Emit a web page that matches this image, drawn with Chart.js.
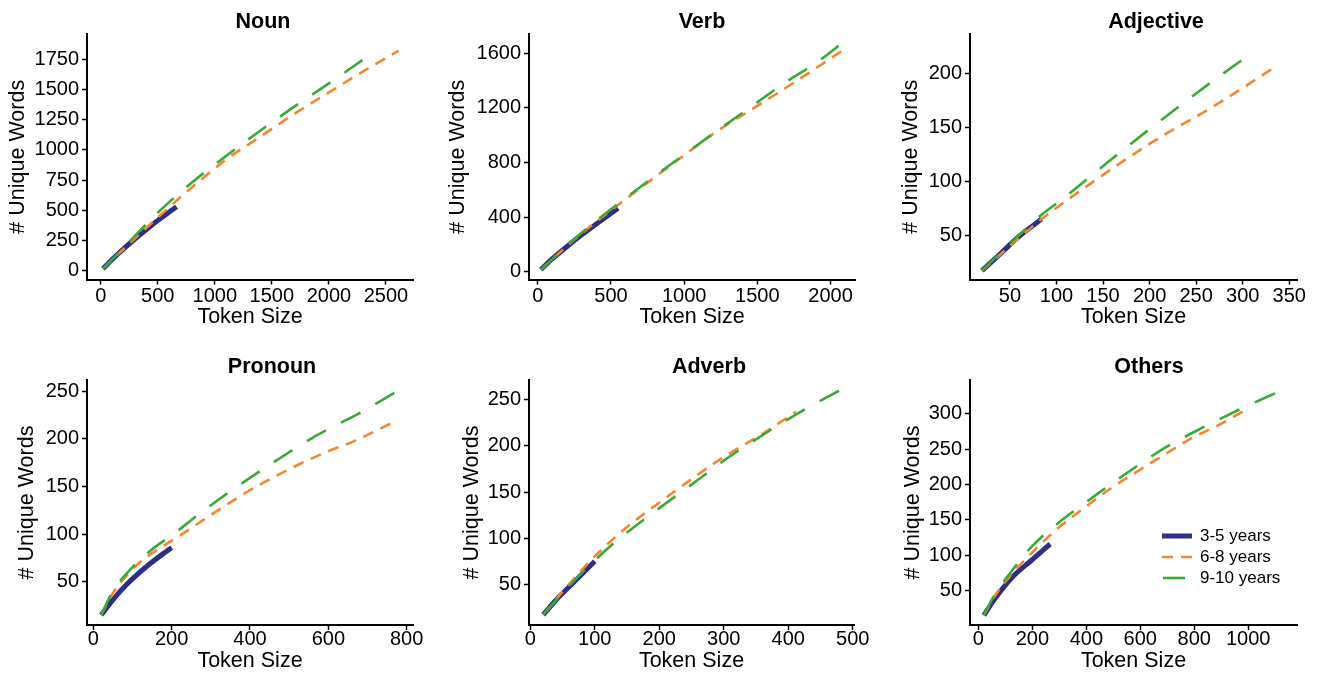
<!DOCTYPE html>
<html>
<head>
<meta charset="utf-8">
<title>Unique words by token size</title>
<script src="https://cdn.jsdelivr.net/npm/chart.js@4.4.1/dist/chart.umd.min.js"></script>
<style>
  html, body { margin: 0; padding: 0; background: #fff; }
  #page { position: relative; width: 1322px; height: 679px; overflow: hidden; }
  #page canvas { position: absolute; }
</style>
</head>
<body>
<div id="page"></div>
<script>
// Age groups (legend order)
const ageGroups = ['3-5 years', '6-8 years', '9-10 years'];

// [token size, unique words]
const noun35  = [[20, 15], [100, 92], [200, 180], [300, 262], [400, 340], [500, 415], [600, 485], [665, 530]];
const noun68  = [[20, 15], [200, 180], [500, 440], [800, 690], [1100, 920], [1400, 1110], [1700, 1300], [2000, 1475], [2300, 1650], [2612, 1821]];
const noun910 = [[20, 15], [200, 190], [500, 480], [800, 730], [1100, 950], [1400, 1160], [1700, 1360], [2000, 1550], [2358, 1786]];

const verb35  = [[20, 15], [100, 95], [200, 185], [300, 270], [400, 350], [549, 465]];
const verb68  = [[20, 15], [300, 280], [623, 550], [1003, 855], [1211, 1019], [1511, 1222], [1800, 1420], [2081, 1620]];
const verb910 = [[20, 15], [300, 285], [600, 540], [1003, 860], [1223, 1031], [1453, 1205], [1684, 1381], [1915, 1540], [2064, 1662]];

const adj35  = [[20, 17], [40, 33], [60, 49], [84, 65]];
const adj68  = [[20, 17], [50, 40], [84, 65], [104, 78], [150, 106], [202, 136], [269, 170], [336, 207]];
const adj910 = [[20, 17], [50, 42], [84, 69], [104, 82], [154, 117], [202, 150], [269, 194], [311, 220]];

const pron35  = [[20, 15], [50, 31], [85, 47], [136, 66], [200, 86]];
const pron68  = [[20, 15], [50, 38], [100, 63], [150, 80], [208, 95], [315, 124], [400, 146], [500, 168], [600, 187], [663, 197], [770, 218]];
const pron910 = [[20, 15], [50, 40], [102, 66], [144, 82], [208, 101], [270, 121], [340, 142], [400, 159], [493, 184], [560, 201], [600, 210], [689, 229], [781, 251]];

const adv35  = [[20, 17], [40, 33], [60, 47], [80, 61], [100, 75]];
const adv68  = [[20, 17], [60, 50], [101, 81], [150, 112], [199, 138], [250, 164], [300, 188], [360, 213], [412, 237]];
const adv910 = [[20, 17], [60, 48], [100, 76], [132, 96], [199, 132], [250, 158], [300, 184], [386, 223], [437, 244], [482, 261]];

const oth35  = [[20, 15], [60, 38], [123, 68], [197, 93], [266, 116]];
const oth68  = [[20, 15], [60, 42], [120, 72], [197, 103], [300, 140], [399, 169], [496, 196], [595, 220], [700, 245], [792, 266], [894, 285], [987, 305]];
const oth910 = [[20, 15], [60, 44], [120, 76], [197, 112], [300, 147], [399, 175], [496, 202], [595, 228], [695, 253], [792, 273], [869, 288], [994, 311], [1128, 334]];

// Tick labels
const nounXTicks = [0, 500, 1000, 1500, 2000, 2500];
const nounYTicks = [0, 250, 500, 750, 1000, 1250, 1500, 1750];
const verbXTicks = [0, 500, 1000, 1500, 2000];
const verbYTicks = [0, 400, 800, 1200, 1600];
const adjXTicks = [50, 100, 150, 200, 250, 300, 350];
const adjYTicks = [50, 100, 150, 200];
const pronXTicks = [0, 200, 400, 600, 800];
const pronYTicks = [50, 100, 150, 200, 250];
const advXTicks = [0, 100, 200, 300, 400, 500];
const advYTicks = [50, 100, 150, 200, 250];
const othXTicks = [0, 200, 400, 600, 800, 1000];
const othYTicks = [50, 100, 150, 200, 250, 300];

// Line styles per age group
const seriesColors = ['#2d2f86', '#f5862b', '#3aa935'];
const seriesWidths = [5, 2.6, 2.6];
const seriesDashes = [[], [11, 8], [22, 17]];

const FONT = '"Liberation Sans", Arial, Helvetica, sans-serif';
Chart.defaults.font.family = FONT;
Chart.defaults.color = '#000';

// Panel layout: plot box in page pixels, axis ranges
const panels = [
  { title: 'Noun', series: [noun35, noun68, noun910], xTicks: nounXTicks, yTicks: nounYTicks,
    col: 0, row: 0, box: { l: 87, t: 34, r: 413, b: 279.5 }, x: [-120, 2737], y: [-73, 1959], titleX: 263, yTitleX: 18.3 },
  { title: 'Verb', series: [verb35, verb68, verb910], xTicks: verbXTicks, yTicks: verbYTicks,
    col: 1, row: 0, box: { l: 529, t: 34, r: 855, b: 279.5 }, x: [-60, 2167], y: [-57, 1741], titleX: 702, yTitleX: 458.3 },
  { title: 'Adjective', series: [adj35, adj68, adj910], xTicks: adjXTicks, yTicks: adjYTicks,
    col: 2, row: 0, box: { l: 970, t: 34, r: 1297, b: 279.5 }, x: [7.1, 358.3], y: [8.8, 237], titleX: 1156, yTitleX: 910.7 },
  { title: 'Pronoun', series: [pron35, pron68, pron910], xTicks: pronXTicks, yTicks: pronYTicks,
    col: 0, row: 1, box: { l: 87, t: 380, r: 413, b: 625 }, x: [-16.1, 816.2], y: [4.6, 261.6], titleX: 272, yTitleX: 26.7 },
  { title: 'Adverb', series: [adv35, adv68, adv910], xTicks: advXTicks, yTicks: advYTicks,
    col: 1, row: 1, box: { l: 529, t: 380, r: 854, b: 625 }, x: [-2, 502], y: [5.9, 271.4], titleX: 709, yTitleX: 471.7 },
  { title: 'Others', series: [oth35, oth68, oth910], xTicks: othXTicks, yTicks: othYTicks,
    col: 2, row: 1, box: { l: 970, t: 380, r: 1297, b: 625 }, x: [-31.2, 1181], y: [1.4, 348], titleX: 1149, yTitleX: 913.3, legend: true }
];

const colBounds = [[0, 440], [440, 880], [880, 1322]];
const rowBounds = [[0, 340], [340, 679]];
const rowTitleY = [22, 367];
const rowTickPad = [-0.5, -3];
const rowXTitlePad = [9.8, 5.1];

const panelTitlePlugin = {
  id: 'panelTitle',
  afterDraw(chart, args, opts) {
    const ctx = chart.ctx;
    ctx.save();
    ctx.font = 'bold 21.5px ' + FONT;
    ctx.fillStyle = '#000';
    ctx.textAlign = 'center';
    ctx.textBaseline = 'middle';
    ctx.fillText(opts.text, opts.x, opts.y);
    ctx.restore();
  }
};

const ageLegendPlugin = {
  id: 'ageLegend',
  afterDraw(chart, args, opts) {
    if (!opts.show) return;
    const ctx = chart.ctx;
    ageGroups.forEach((label, i) => {
      const ds = chart.data.datasets[i];
      const y = opts.rows[i];
      ctx.save();
      ctx.strokeStyle = ds.borderColor;
      ctx.lineWidth = ds.borderWidth;
      ctx.setLineDash(ds.borderDash);
      ctx.lineDashOffset = opts.dashOffsets[i];
      ctx.beginPath();
      ctx.moveTo(opts.x1, y);
      ctx.lineTo(opts.x2, y);
      ctx.stroke();
      ctx.restore();
      ctx.save();
      ctx.font = '17px ' + FONT;
      ctx.fillStyle = '#000';
      ctx.textAlign = 'left';
      ctx.textBaseline = 'middle';
      ctx.fillText(label, opts.textX, y);
      ctx.restore();
    });
  }
};

const page = document.getElementById('page');

panels.forEach(p => {
  const [cx, cx2] = colBounds[p.col];
  const [cy, cy2] = rowBounds[p.row];
  const cw = cx2 - cx, ch = cy2 - cy;
  const canvas = document.createElement('canvas');
  canvas.width = cw;
  canvas.height = ch;
  canvas.style.left = cx + 'px';
  canvas.style.top = cy + 'px';
  canvas.style.width = cw + 'px';
  canvas.style.height = ch + 'px';
  page.appendChild(canvas);

  const axisCommon = {
    type: 'linear',
    border: { display: true, color: '#000', width: 2 },
    grid: { display: true, drawOnChartArea: false, drawTicks: true, tickLength: 5, tickColor: '#000', tickWidth: 1.5 }
  };

  new Chart(canvas, {
    type: 'line',
    data: {
      datasets: p.series.map((pts, i) => ({
        label: ageGroups[i],
        data: pts.map(pt => ({ x: pt[0], y: pt[1] })),
        borderColor: seriesColors[i],
        borderWidth: seriesWidths[i],
        borderDash: seriesDashes[i],
        borderCapStyle: 'butt',
        pointRadius: 0,
        fill: false,
        cubicInterpolationMode: 'monotone',
        order: 2 - i
      }))
    },
    options: {
      responsive: false,
      animation: false,
      devicePixelRatio: 1,
      layout: { padding: { top: p.box.t - cy, right: cx2 - p.box.r, bottom: 0, left: 0 } },
      plugins: {
        legend: { display: false },
        tooltip: { enabled: false },
        panelTitle: { text: p.title, x: p.titleX - cx, y: rowTitleY[p.row] - cy },
        ageLegend: {
          show: !!p.legend,
          x1: 1162 - cx, x2: 1192 - cx, textX: 1200 - cx,
          rows: [536 - cy, 557 - cy, 578 - cy],
          dashOffsets: [0, 0, 38]
        }
      },
      scales: {
        x: Object.assign({}, axisCommon, {
          position: 'bottom',
          min: p.x[0],
          max: p.x[1],
          afterBuildTicks: axis => { axis.ticks = p.xTicks.map(v => ({ value: v })); },
          afterFit: axis => { axis.height = cy2 - p.box.b; },
          ticks: { font: { size: 20 }, color: '#000', padding: rowTickPad[p.row], autoSkip: false, maxRotation: 0, callback: v => String(v) },
          title: { display: true, text: 'Token Size', font: { size: 21.5 }, color: '#000', padding: { top: 0, bottom: rowXTitlePad[p.row] } }
        }),
        y: Object.assign({}, axisCommon, {
          position: 'left',
          min: p.y[0],
          max: p.y[1],
          afterBuildTicks: axis => { axis.ticks = p.yTicks.map(v => ({ value: v })); },
          afterFit: axis => { axis.width = p.box.l - cx; },
          ticks: { font: { size: 20 }, color: '#000', padding: 3, autoSkip: false, callback: v => String(v) },
          title: { display: true, text: '# Unique Words', font: { size: 21.5 }, color: '#000', padding: { top: p.yTitleX - cx - 12.9, bottom: 0 } }
        })
      }
    },
    plugins: [panelTitlePlugin, ageLegendPlugin]
  });
});
</script>
</body>
</html>
